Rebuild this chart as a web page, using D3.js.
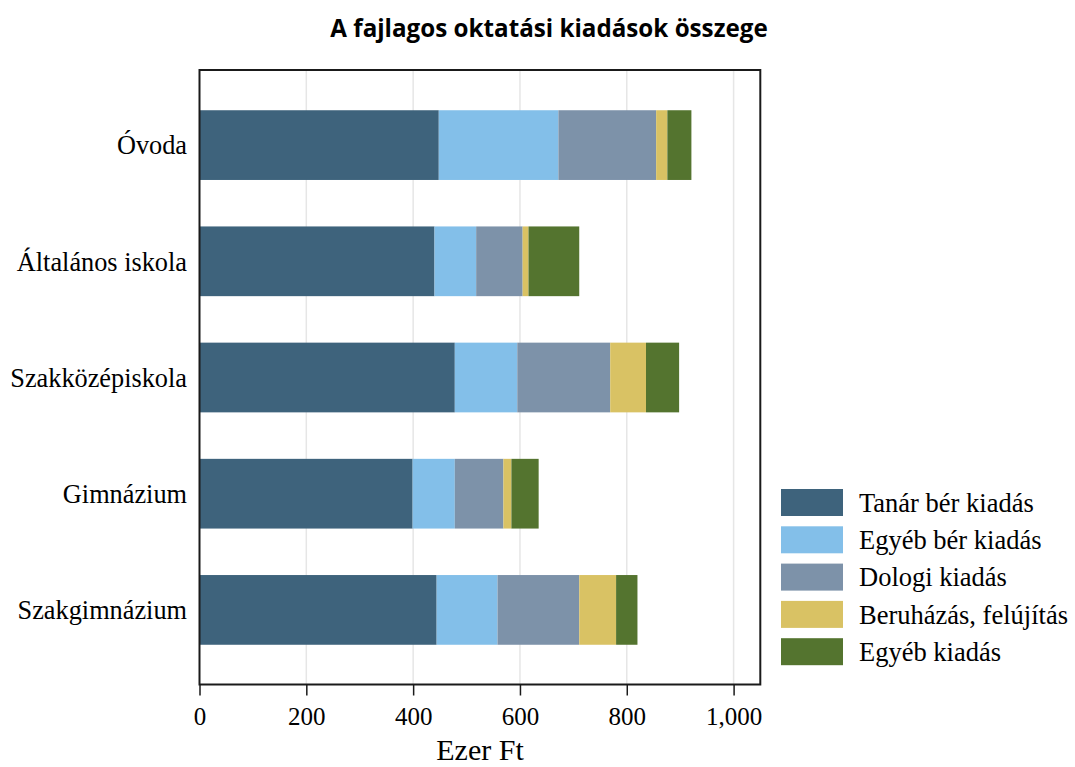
<!DOCTYPE html>
<html><head><meta charset="utf-8">
<script src="https://cdn.jsdelivr.net/npm/d3@7"></script>
<style>body{margin:0;background:#fff}</style>
</head><body>
<svg id="c" width="1075" height="767"></svg>
<script>
const categories = ["Óvoda","Általános iskola","Szakközépiskola","Gimnázium","Szakgimnázium"];
const seriesNames = ["Tanár bér kiadás","Egyéb bér kiadás","Dologi kiadás","Beruházás, felújítás","Egyéb kiadás"];
const tanarBer   = [448, 440, 478, 399, 444];
const egyebBer   = [224,  78, 117,  79, 114];
const dologi     = [183,  87, 174,  91, 153];
const beruhazas  = [ 21,  11,  67,  15,  69];
const egyebKiad  = [ 45,  95,  62,  51,  40];
const xTicks = [0, 200, 400, 600, 800, 1000];
const colors = ["#3e637c","#83bfe9","#7d92a9","#d9c264","#54742f"];

const seriesValues = [tanarBer, egyebBer, dologi, beruhazas, egyebKiad];
const rows = categories.map((c,i)=>{const r={cat:c}; seriesNames.forEach((s,j)=>r[s]=seriesValues[j][i]); return r;});
const stack = d3.stack().keys(seriesNames)(rows);

const svg = d3.select("#c");
const L=199.5, R=760.3, T=70, B=684.5;
const x = d3.scaleLinear().domain([0,1050]).range([L,R]);
const y = d3.scaleBand().domain(categories).range([87,668]).paddingInner(0.4).paddingOuter(0.2);

// grid
svg.append("g").selectAll("line").data(xTicks.filter(d=>d>0)).join("line")
  .attr("x1",d=>x(d)).attr("x2",d=>x(d)).attr("y1",T).attr("y2",B)
  .attr("stroke","#e6e6e6").attr("stroke-width",1.5);

// bars
svg.append("g").selectAll("g").data(stack).join("g")
  .attr("fill",(d,i)=>colors[i])
  .selectAll("rect").data(d=>d).join("rect")
  .attr("x",d=>x(d[0])).attr("width",d=>x(d[1])-x(d[0]))
  .attr("y",d=>y(d.data.cat)).attr("height",y.bandwidth());

// frame
svg.append("rect").attr("x",L).attr("y",T).attr("width",R-L).attr("height",B-T)
  .attr("fill","none").attr("stroke","#1a1a1a").attr("stroke-width",2);

// x axis
const xa = svg.append("g").attr("transform",`translate(0,${B})`)
  .call(d3.axisBottom(x).tickValues(xTicks).tickSize(11).tickFormat(d3.format(",")));
xa.select(".domain").remove();
xa.selectAll("line").attr("stroke","#1a1a1a").attr("stroke-width",1.5);
xa.selectAll("text").attr("font-family","'Liberation Serif', serif").attr("font-size",25).attr("fill","#000").attr("dy","1.05em");

// y labels
svg.append("g").selectAll("text").data(categories).join("text")
  .attr("x",187).attr("y",d=>y(d)+y.bandwidth()/2).attr("dy","0.35em")
  .attr("text-anchor","end").attr("font-family","'Liberation Serif', serif").attr("font-size",26.3)
  .text(d=>d);

// axis title
svg.append("text").attr("x",480).attr("y",760).attr("text-anchor","middle")
  .attr("font-family","'Liberation Serif', serif").attr("font-size",30).text("Ezer Ft");

// title
svg.append("text").attr("x",549).attr("y",37).attr("text-anchor","middle")
  .attr("font-family","'Open Sans', sans-serif").attr("font-weight","bold").attr("font-size",24.2)
  .text("A fajlagos oktatási kiadások összege");

// legend
const lg = svg.append("g").selectAll("g").data(seriesNames).join("g")
  .attr("transform",(d,i)=>`translate(781,${489+i*37.3})`);
lg.append("rect").attr("width",62).attr("height",27).attr("fill",(d,i)=>colors[i]);
lg.append("text").attr("x",78).attr("y",13.5).attr("dy","0.35em")
  .attr("font-family","'Liberation Serif', serif").attr("font-size",26.5).text(d=>d);
</script>
</body></html>
